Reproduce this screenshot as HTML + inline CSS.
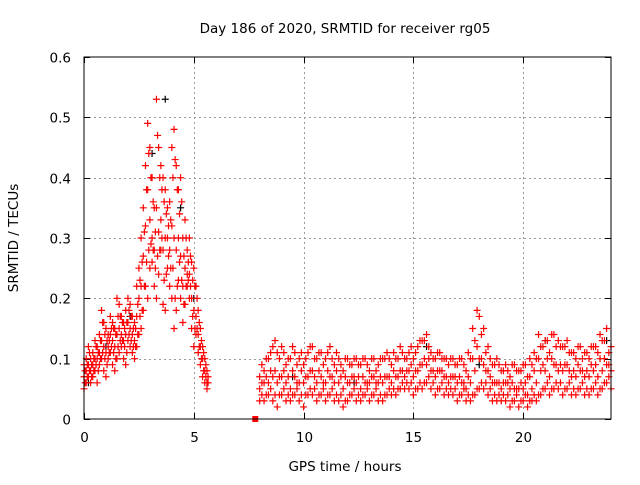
<!DOCTYPE html>
<html><head><meta charset="utf-8"><style>
body{margin:0;background:#fff}
svg text{font-family:"DejaVu Sans","Liberation Sans",sans-serif;font-size:13.5px;fill:#000}
</style></head><body>
<svg id="chart" width="640" height="480" viewBox="0 0 640 480">
<rect width="640" height="480" fill="#fff"/>
<text x="345" y="33" text-anchor="middle">Day 186 of 2020, SRMTID for receiver rg05</text>
<text x="345" y="471" text-anchor="middle">GPS time / hours</text>
<text transform="translate(18,238) rotate(-90)" text-anchor="middle">SRMTID / TECUs</text>
<g id="grid"></g>
<g id="ticks"></g>
<g id="pts"></g>
<rect x="84" y="57" width="527" height="362" fill="none" stroke="#000" stroke-width="1"/>
</svg>
<script>
const xTicks=[0,5,10,15,20];
const yTicks=[0,0.1,0.2,0.3,0.4,0.5,0.6];
const yTickLabels=["0","0.1","0.2","0.3","0.4","0.5","0.6"];
// segment 1: 0.0 .. 5.6 h step 0.1
const seg1Start=0.0, seg1Step=0.1;
const seg1Hi=[0.09,0.1,0.12,0.1,0.11,0.13,0.12,0.14,0.18,0.16,0.15,0.14,0.17,0.16,0.15,0.2,0.19,0.17,0.16,0.18,0.2,0.19,0.17,0.16,0.22,0.25,0.3,0.35,0.42,0.49,0.45,0.4,0.35,0.53,0.45,0.42,0.4,0.38,0.35,0.36,0.45,0.48,0.42,0.38,0.4,0.3,0.33,0.28,0.3,0.26,0.25,0.22,0.18,0.15,0.12,0.1,0.08];
const seg1Lo=[0.05,0.06,0.07,0.06,0.07,0.08,0.06,0.09,0.1,0.08,0.07,0.1,0.11,0.09,0.08,0.1,0.11,0.12,0.1,0.09,0.13,0.12,0.11,0.1,0.12,0.14,0.15,0.18,0.22,0.2,0.25,0.26,0.22,0.2,0.24,0.28,0.19,0.18,0.25,0.22,0.2,0.15,0.18,0.23,0.2,0.16,0.19,0.22,0.2,0.15,0.12,0.14,0.11,0.09,0.07,0.06,0.05];
const seg1Mid=[0.07,0.08,0.09,0.08,0.09,0.1,0.1,0.11,0.13,0.12,0.11,0.12,0.14,0.13,0.12,0.14,0.15,0.14,0.13,0.14,0.16,0.15,0.14,0.13,0.17,0.2,0.22,0.27,0.32,0.38,0.33,0.3,0.28,0.35,0.31,0.33,0.28,0.3,0.3,0.28,0.32,0.3,0.28,0.3,0.27,0.22,0.25,0.24,0.24,0.2,0.18,0.17,0.14,0.12,0.1,0.08,0.06];
const seg1bStart=0.05;
const seg1bA=[0.08,0.09,0.11,0.09,0.1,0.12,0.11,0.13,0.16,0.14,0.13,0.13,0.15,0.15,0.14,0.17,0.17,0.16,0.15,0.16,0.18,0.17,0.15,0.15,0.19,0.23,0.26,0.31,0.38,0.44,0.4,0.36,0.31,0.47,0.4,0.38,0.36,0.34,0.32,0.33,0.4,0.43,0.38,0.34,0.36,0.27,0.3,0.26,0.27,0.23,0.22,0.2,0.16,0.13,0.11,0.09,0.07];
const seg1bB=[0.06,0.07,0.08,0.07,0.08,0.09,0.08,0.1,0.11,0.1,0.09,0.11,0.12,0.11,0.1,0.12,0.13,0.13,0.12,0.11,0.14,0.13,0.12,0.12,0.14,0.17,0.18,0.22,0.26,0.28,0.29,0.28,0.25,0.27,0.28,0.3,0.23,0.24,0.27,0.25,0.25,0.2,0.22,0.26,0.23,0.19,0.22,0.23,0.22,0.17,0.15,0.15,0.12,0.1,0.08,0.07,0.06];
// segment 2: 8.0 .. 24.0 h step 0.2
const seg2Start=8.0, seg2Step=0.2;
const seg2Hi=[0.07,0.08,0.1,0.12,0.11,0.12,0.09,0.1,0.11,0.1,0.09,0.11,0.12,0.1,0.11,0.1,0.12,0.09,0.1,0.08,0.1,0.09,0.1,0.09,0.1,0.08,0.1,0.09,0.1,0.11,0.09,0.1,0.12,0.1,0.11,0.1,0.12,0.13,0.14,0.11,0.1,0.11,0.1,0.09,0.1,0.09,0.1,0.08,0.1,0.13,0.17,0.15,0.12,0.09,0.1,0.08,0.09,0.07,0.09,0.08,0.09,0.07,0.09,0.1,0.12,0.13,0.11,0.14,0.13,0.12,0.13,0.11,0.1,0.12,0.11,0.1,0.12,0.11,0.13,0.15,0.12];
const seg2Mid=[0.05,0.06,0.06,0.07,0.06,0.07,0.06,0.05,0.07,0.06,0.06,0.07,0.08,0.06,0.07,0.06,0.07,0.06,0.06,0.05,0.06,0.07,0.06,0.05,0.06,0.06,0.07,0.06,0.06,0.07,0.06,0.07,0.08,0.07,0.08,0.07,0.08,0.09,0.09,0.08,0.07,0.08,0.07,0.06,0.07,0.06,0.06,0.05,0.06,0.08,0.1,0.09,0.08,0.06,0.06,0.05,0.06,0.05,0.05,0.05,0.05,0.04,0.05,0.06,0.08,0.08,0.07,0.09,0.08,0.08,0.09,0.07,0.07,0.08,0.07,0.07,0.08,0.07,0.08,0.09,0.08];
const seg2Lo=[0.03,0.03,0.04,0.03,0.02,0.04,0.03,0.03,0.04,0.03,0.02,0.04,0.04,0.03,0.04,0.03,0.04,0.03,0.03,0.02,0.03,0.04,0.03,0.03,0.04,0.03,0.04,0.03,0.03,0.04,0.04,0.04,0.05,0.05,0.05,0.04,0.05,0.05,0.06,0.05,0.04,0.05,0.04,0.04,0.04,0.03,0.04,0.03,0.03,0.04,0.05,0.05,0.04,0.03,0.03,0.03,0.03,0.02,0.03,0.02,0.03,0.02,0.03,0.03,0.04,0.05,0.04,0.05,0.05,0.04,0.05,0.04,0.04,0.05,0.04,0.04,0.05,0.04,0.05,0.06,0.05];
const seg2bStart=8.1;
const seg2bHi=[0.09,0.1,0.11,0.13,0.1,0.11,0.1,0.12,0.09,0.11,0.1,0.12,0.1,0.11,0.09,0.11,0.1,0.11,0.09,0.1,0.09,0.1,0.09,0.1,0.09,0.1,0.08,0.1,0.1,0.1,0.11,0.1,0.11,0.1,0.12,0.11,0.13,0.13,0.12,0.1,0.11,0.1,0.1,0.1,0.09,0.1,0.09,0.11,0.15,0.18,0.14,0.11,0.1,0.09,0.09,0.08,0.08,0.09,0.08,0.08,0.09,0.1,0.11,0.14,0.12,0.13,0.14,0.12,0.12,0.12,0.11,0.11,0.12,0.1,0.11,0.12,0.12,0.14,0.13,0.11];
const seg2bMid=[0.06,0.07,0.08,0.08,0.07,0.08,0.07,0.08,0.06,0.08,0.07,0.08,0.07,0.08,0.06,0.08,0.07,0.08,0.07,0.07,0.06,0.07,0.07,0.07,0.06,0.07,0.06,0.07,0.07,0.07,0.08,0.07,0.08,0.08,0.09,0.08,0.09,0.1,0.1,0.08,0.08,0.08,0.07,0.07,0.07,0.07,0.06,0.07,0.1,0.12,0.1,0.08,0.07,0.06,0.06,0.06,0.06,0.06,0.05,0.06,0.06,0.07,0.08,0.1,0.09,0.1,0.1,0.09,0.09,0.09,0.08,0.08,0.09,0.08,0.08,0.09,0.09,0.1,0.1,0.09];
const seg2bLo=[0.04,0.04,0.05,0.04,0.04,0.05,0.04,0.04,0.05,0.04,0.04,0.05,0.05,0.04,0.05,0.04,0.05,0.04,0.04,0.03,0.04,0.05,0.04,0.04,0.05,0.04,0.05,0.04,0.04,0.05,0.05,0.05,0.06,0.06,0.06,0.05,0.06,0.06,0.07,0.06,0.05,0.06,0.05,0.05,0.05,0.04,0.05,0.04,0.04,0.05,0.06,0.06,0.05,0.04,0.04,0.04,0.04,0.03,0.04,0.03,0.04,0.03,0.04,0.04,0.05,0.06,0.05,0.06,0.06,0.05,0.06,0.05,0.05,0.06,0.05,0.05,0.06,0.05,0.06,0.07];
const blackTimes=[0.2,1.0,2.1,3.1,3.7,4.4,5.0,9.5,12.3,15.6,18.0,21.0,23.8];
const blackVals=[0.06,0.12,0.17,0.44,0.53,0.35,0.2,0.07,0.06,0.12,0.09,0.13,0.13];
const gapTimes=[7.8];
const gapVals=[0.0];

const X0=84,X1=611,Y0=419,Y1=57;
const sx=t=>X0+(t/24)*(X1-X0);
const sy=v=>Y0-(v/0.6)*(Y0-Y1);
const NS="http://www.w3.org/2000/svg";
const grid=document.getElementById('grid'),ticks=document.getElementById('ticks'),pts=document.getElementById('pts');
function ln(p,x1,y1,x2,y2,st,dash){const l=document.createElementNS(NS,'line');l.setAttribute('x1',x1);l.setAttribute('y1',y1);l.setAttribute('x2',x2);l.setAttribute('y2',y2);l.setAttribute('stroke',st);if(dash)l.setAttribute('stroke-dasharray',dash);p.appendChild(l);return l;}
xTicks.forEach(t=>{const x=Math.round(sx(t))+0.5;
 if(t>0){const g=ln(grid,x,Y1,x,Y0,'#999','2,3');
 
 }
 ln(ticks,x,Y0,x,Y0-6,'#000');ln(ticks,x,Y1,x,Y1+6,'#000');
 const tx=document.createElementNS(NS,'text');tx.setAttribute('x',x);tx.setAttribute('y',Y0+23);tx.setAttribute('text-anchor','middle');tx.textContent=t;
 
 
 ticks.appendChild(tx);});
yTicks.forEach((v,i)=>{const y=Math.round(sy(v))+0.5;
 if(i>0&&i<yTicks.length-1){const g=ln(grid,X0,y,X1,y,'#999','2,3');
 
 }
 ln(ticks,X0,y,X0+6,y,'#000');ln(ticks,X1,y,X1-6,y,'#000');
 const tx=document.createElementNS(NS,'text');tx.setAttribute('x',X0-13);tx.setAttribute('y',y+5);tx.setAttribute('text-anchor','end');tx.textContent=yTickLabels[i];
 
 
 ticks.appendChild(tx);});
function plus(t,v,col){const x=sx(t),y=sy(v);const p=document.createElementNS(NS,'path');
 p.setAttribute('d',`M${x-3.5},${y}H${x+3.5}M${x},${y-3.5}V${y+3.5}`);p.setAttribute('stroke',col);p.setAttribute('stroke-width','1.2');
 
 
 pts.appendChild(p);}
blackTimes.forEach((t,i)=>plus(t,blackVals[i],'#000'));
[seg1Hi,seg1Mid,seg1Lo].forEach(a=>a.forEach((v,i)=>plus(seg1Start+i*seg1Step,v,'#f00')));
[seg1bA,seg1bB].forEach(a=>a.forEach((v,i)=>plus(seg1bStart+i*seg1Step,v,'#f00')));
[seg2Hi,seg2Mid,seg2Lo].forEach(a=>a.forEach((v,i)=>plus(seg2Start+i*seg2Step,v,'#f00')));
[seg2bHi,seg2bMid,seg2bLo].forEach(a=>a.forEach((v,i)=>plus(seg2bStart+i*seg2Step,v,'#f00')));
gapTimes.forEach((t,i)=>{const r=document.createElementNS(NS,'rect');r.setAttribute('x',sx(t)-3);r.setAttribute('y',sy(gapVals[i])-3);r.setAttribute('width',6);r.setAttribute('height',6);r.setAttribute('fill','#f00');
 
 
 pts.appendChild(r);});
</script>
</body></html>
